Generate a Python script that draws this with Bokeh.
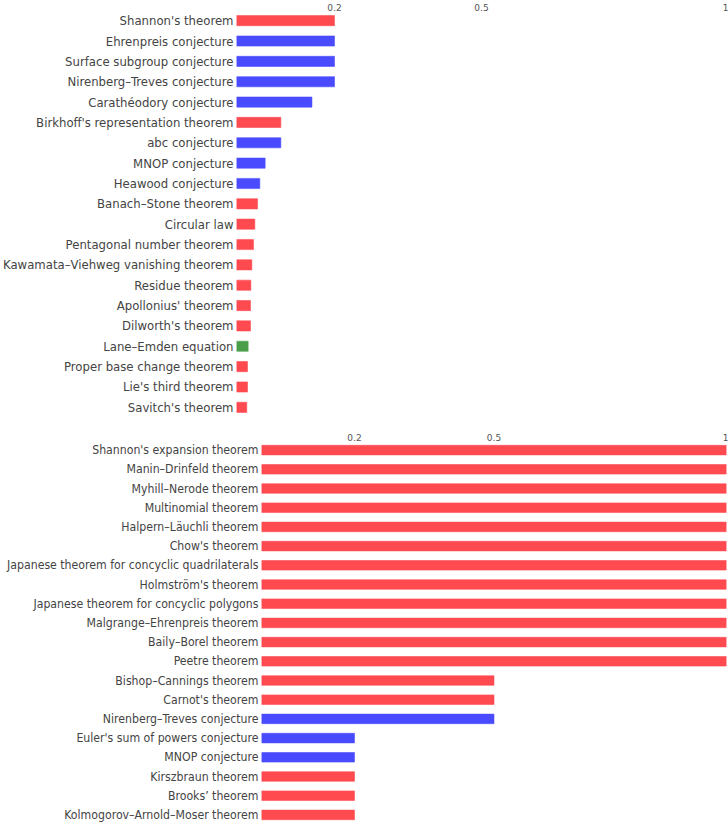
from bokeh.plotting import figure
from bokeh.layouts import column
from bokeh.models import FactorRange, Range1d, FixedTicker, ColumnDataSource
from bokeh.embed import file_html
from bokeh.resources import INLINE

# ---- data ----
top_names = ["Shannon's theorem", "Ehrenpreis conjecture", "Surface subgroup conjecture",
             "Nirenberg–Treves conjecture", "Carathéodory conjecture",
             "Birkhoff's representation theorem", "abc conjecture", "MNOP conjecture",
             "Heawood conjecture", "Banach–Stone theorem", "Circular law",
             "Pentagonal number theorem", "Kawamata–Viehweg vanishing theorem",
             "Residue theorem", "Apollonius' theorem", "Dilworth's theorem",
             "Lane–Emden equation", "Proper base change theorem", "Lie's third theorem",
             "Savitch's theorem"]
top_values = [0.2, 0.2, 0.2, 0.2, 0.154, 0.0905, 0.0905, 0.0585, 0.0476, 0.0429, 0.0374,
              0.0347, 0.0313, 0.0293, 0.0286, 0.0286, 0.0238, 0.0224, 0.0224, 0.021]
top_kinds = ["theorem", "conjecture", "conjecture", "conjecture", "conjecture", "theorem",
             "conjecture", "conjecture", "conjecture", "theorem", "theorem", "theorem",
             "theorem", "theorem", "theorem", "theorem", "equation", "theorem", "theorem",
             "theorem"]

bottom_names = ["Shannon's expansion theorem", "Manin–Drinfeld theorem", "Myhill–Nerode theorem",
                "Multinomial theorem", "Halpern–Läuchli theorem", "Chow's theorem",
                "Japanese theorem for concyclic quadrilaterals", "Holmström's theorem",
                "Japanese theorem for concyclic polygons", "Malgrange–Ehrenpreis theorem",
                "Baily–Borel theorem", "Peetre theorem", "Bishop–Cannings theorem",
                "Carnot's theorem", "Nirenberg–Treves conjecture",
                "Euler's sum of powers conjecture", "MNOP conjecture", "Kirszbraun theorem",
                "Brooks’ theorem", "Kolmogorov–Arnold–Moser theorem"]
bottom_values = [1, 1, 1, 1, 1, 1, 1, 1, 1, 1, 1, 1, 0.5, 0.5, 0.5, 0.2, 0.2, 0.2, 0.2, 0.2]
bottom_kinds = ["theorem"] * 14 + ["conjecture", "conjecture", "conjecture",
                                   "theorem", "theorem", "theorem"]

tick_values = [0.2, 0.5, 1]
tick_labels = ["0.2", "0.5", "1"]

kind_colors = {"theorem": "#FF4A50", "conjecture": "#4A4AFF", "equation": "#4A9E4A"}

FONT = "DejaVu Sans Condensed"


def make_panel(names, values, kinds, height, left_border, top_border, font_size, standoff):
    src = ColumnDataSource(dict(name=names, value=values,
                                start=[0] * len(names),
                                color=[kind_colors[k] for k in kinds]))
    p = figure(width=728, height=height,
               y_range=FactorRange(factors=list(reversed(names))),
               x_range=Range1d(0, 1),
               x_axis_location="above",
               output_backend="svg", toolbar_location=None,
               min_border_left=left_border, min_border_right=2,
               min_border_top=top_border, min_border_bottom=0)
    p.frame_align = False
    p.hbar(y="name", left="start", right="value", height=0.5, source=src,
           fill_color="color", line_color="color", line_alpha=0.55, line_width=1)
    p.outline_line_color = None
    p.xgrid.grid_line_color = None
    p.ygrid.grid_line_color = None
    p.background_fill_color = "white"
    p.border_fill_color = "white"

    xa = p.xaxis[0]
    xa.ticker = FixedTicker(ticks=tick_values)
    xa.major_label_overrides = {v: l for v, l in zip(tick_values, tick_labels)}
    xa.axis_line_color = None
    xa.major_tick_line_color = None
    xa.minor_tick_line_color = None
    xa.major_tick_out = 0
    xa.major_tick_in = 0
    xa.major_label_standoff = 0
    xa.major_label_text_font = "DejaVu Sans"
    xa.major_label_text_font_size = "9px"
    xa.major_label_text_color = "#555555"

    ya = p.yaxis[0]
    ya.axis_line_color = None
    ya.major_tick_line_color = None
    ya.minor_tick_line_color = None
    ya.major_tick_out = 0
    ya.major_tick_in = 0
    ya.major_label_standoff = standoff
    ya.major_label_text_font = FONT
    ya.major_label_text_font_size = font_size
    ya.major_label_text_color = "#444444"
    return p


top = make_panel(top_names, top_values, top_kinds, 417, 236, 9, "13px", 3)
bottom = make_panel(bottom_names, bottom_values, bottom_kinds, 407, 261, 23, "12.2px", 3)

layout = column(top, bottom, spacing=0)

open("out.html", "w").write(file_html(layout, INLINE))
